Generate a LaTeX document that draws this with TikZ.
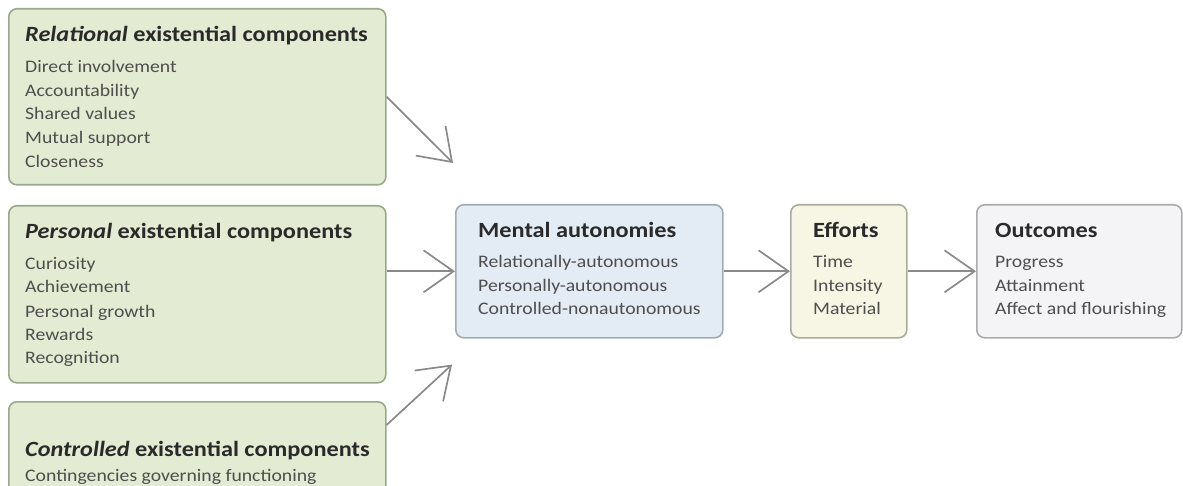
\documentclass[tikz,border=0pt]{standalone}
\usepackage{fontspec}
\setmainfont{Carlito}[FakeStretch=1.12]
\usetikzlibrary{arrows.meta,calc}
\definecolor{grfill}{HTML}{E3EBD3}
\definecolor{grline}{HTML}{9AA88A}
\definecolor{blfill}{HTML}{E3EBF5}
\definecolor{blline}{HTML}{A3AAB2}
\definecolor{crfill}{HTML}{F7F5E3}
\definecolor{crline}{HTML}{ABAA9E}
\definecolor{gyfill}{HTML}{F4F4F6}
\definecolor{gyline}{HTML}{ABABAE}
\definecolor{headc}{HTML}{2A2A2A}
\definecolor{itemc}{HTML}{4E4E4E}
\definecolor{arrc}{HTML}{8A8A8A}
\begin{document}
\begin{tikzpicture}[x=1pt,y=-1pt,
  box/.style={draw, line width=1.6pt, rounded corners=8pt, anchor=north west, inner sep=0pt},
  greenbox/.style={box, fill=grfill, draw=grline},
  head/.style={anchor=base west, inner sep=0pt, text=headc, font=\fontsize{21.7}{26}\selectfont\bfseries},
  item/.style={anchor=base west, inner sep=0pt, text=itemc, font=\fontsize{17.6}{21}\selectfont},
  link/.style={draw=arrc, line width=1.7pt, -{Straight Barb[length=30pt,width=42pt]}}]
\useasboundingbox (0,0) rectangle (1183,486);
\clip (0,0) rectangle (1183,486);

% source boxes
\node[greenbox, minimum width=377pt, minimum height=176pt] (rel) at (8,8) {};
\node[greenbox, minimum width=377pt, minimum height=177pt] (pers) at (8,205) {};
\node[greenbox, minimum width=377pt, minimum height=120pt] (ctrl) at (8,401) {};

% chain boxes
\node[box, fill=blfill, draw=blline, minimum width=267pt, minimum height=133pt] (ment) at (455,204) {};
\node[box, fill=crfill, draw=crline, minimum width=116pt, minimum height=133pt] (eff) at (790,204) {};
\node[box, fill=gyfill, draw=gyline, minimum width=205pt, minimum height=133pt] (out) at (976,204) {};

% relational
\node[head] (relh) at (25,42) {\textit{Relational} existential components};
\node[item] (rel1) at (25,73) {Direct involvement};
\node[item] (rel2) at (25,97) {Accountability};
\node[item] (rel3) at (25,120) {Shared values};
\node[item] (rel4) at (25,144) {Mutual support};
\node[item] (rel5) at (25,168) {Closeness};

% personal
\node[head] (persh) at (25,239) {\textit{Personal} existential components};
\node[item] (pers1) at (25,270) {Curiosity};
\node[item] (pers2) at (25,293) {Achievement};
\node[item] (pers3) at (25,317) {Personal growth};
\node[item] (pers4) at (25,340) {Rewards};
\node[item] (pers5) at (25,363) {Recognition};

% controlled
\node[head] (ctrlh) at (25,456) {\textit{Controlled} existential components};
\node[item] (ctrl1) at (25,481) {Contingencies governing functioning};

% mental autonomies
\node[head] (menth) at (478,238) {Mental autonomies};
\node[item] (ment1) at (478,268) {Relationally-autonomous};
\node[item] (ment2) at (478,291) {Personally-autonomous};
\node[item] (ment3) at (478,314) {Controlled-nonautonomous};

% efforts
\node[head] (effh) at (813,238) {Efforts};
\node[item] (eff1) at (813,268) {Time};
\node[item] (eff2) at (813,291) {Intensity};
\node[item] (eff3) at (813,314) {Material};

% outcomes
\node[head] (outh) at (995,238) {Outcomes};
\node[item] (out1) at (995,268) {Progress};
\node[item] (out2) at (995,291) {Attainment};
\node[item] (out3) at (995,314) {Affect and flourishing};

% connectors
\coordinate (reltip) at ($(ment.north west)+(-2,-41)$);
\coordinate (ctrltip) at ($(ment.south west)+(-3,26)$);
\coordinate (ctrlout) at ($(ctrl.north east)+(0,24)$);
\draw[link] (rel.east) -- (reltip);
\draw[link] (pers.east |- ment.west) -- (ment.west);
\draw[link] (ctrlout) -- (ctrltip);
\draw[link] (ment.east) -- (eff.west);
\draw[link] (eff.east) -- (out.west);
\end{tikzpicture}
\end{document}
